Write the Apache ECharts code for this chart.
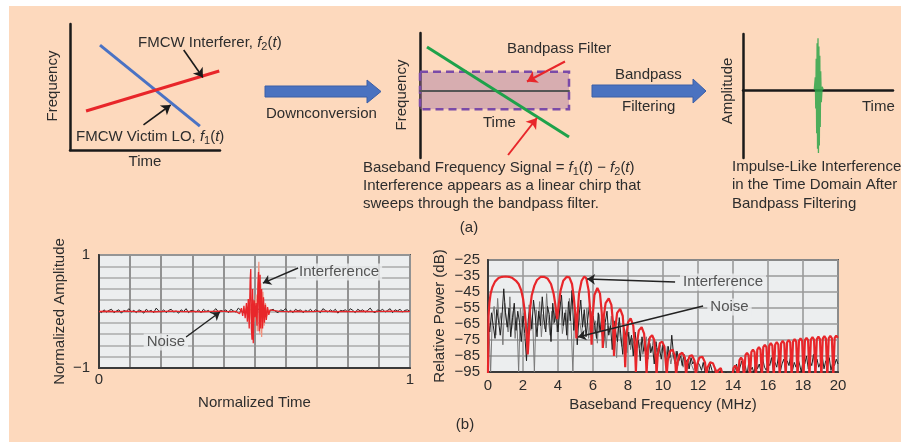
<!DOCTYPE html>
<html><head><meta charset="utf-8">
<script src="https://cdn.jsdelivr.net/npm/echarts@6/dist/echarts.min.js"></script>
<style>html,body{margin:0;padding:0;background:#fff}#c{width:901px;height:442px}</style>
</head><body><div id="c"></div>
<script>
// ---------------- DATA ----------------
// (a) schematic diagrams
const victimLO = [[2.0, 8.33], [8.66, 1.9]];          // f1(t), blue
const interferer = [[1.07, 3.1], [9.95, 6.27]];       // f2(t), red
const basebandChirp = [[4.7, 34.8], [100, -37.2]];    // green chirp in middle panel
const filterBand = [0, 100, -15, 15];                 // x0,x1,y0,y1 of passband box
const impulse = [[47.5,0],[48.2,0.2],[48.5,-0.3],[48.8,0.5],[49.1,-0.7],[49.4,0.75],[49.7,-0.95],[50,0.83],[50.3,-1.02],[50.6,0.7],[50.9,-0.9],[51.2,0.55],[51.5,-0.6],[51.8,0.3],[52.2,-0.2],[52.8,0.05],[53.5,0]];

// (b) left: time domain
const timeStep = 0.008;
const timeNoise = [0.01,-0.02,0.03,-0.01,0.02,0.04,-0.02,0.01,0.03,-0.03,0.02,0.00,0.05,-0.01,0.02,-0.02,0.03,0.01,-0.03,0.04,
0.00,0.02,-0.02,0.06,0.01,-0.01,0.03,-0.02,0.02,0.04,-0.01,0.01,-0.03,0.03,0.00,0.05,-0.02,0.02,0.01,-0.01,
0.03,-0.02,0.04,0.00,0.02,-0.03,0.01,0.05,-0.01,0.02,0.00,0.03,-0.02,0.04,0.01,-0.01,0.06,0.02,-0.02,0.03,
0.00,0.04,-0.01,0.02,0.05,-0.02,0.01,0.03,-0.03,0.02,0.04,0.00,-0.02,0.03,0.01,0.05,-0.01,0.02,-0.02,0.04,
0.01,0.03,-0.02,0.02,0.00,0.04,-0.01,0.03,0.01,-0.02,0.05,0.02,-0.01,0.03,0.00,0.04,-0.03,0.02,0.01,0.03,
-0.01,0.05,0.02,-0.02,0.04,0.01,0.03,-0.01,0.02,0.06,0.00,-0.02,0.03,0.01,0.04,-0.01,0.02,0.05,-0.02,0.03,
0.01,0.04,-0.01,0.02,0.03,0.00];
const timeInterference = [[0,0],[0.03,0.004],[0.06,-0.003],[0.09,0.005],[0.12,-0.002],[0.15,0.003],[0.18,-0.004],[0.21,0.002],[0.24,0.005],[0.27,-0.003],[0.30,0.002],[0.33,-0.004],[0.36,0.003],[0.39,0.006],[0.42,-0.004],[0.44,0.002],
[0.446,0.03],[0.452,-0.04],[0.458,0.06],[0.462,-0.08],[0.466,0.10],[0.470,-0.12],[0.474,0.15],[0.477,-0.18],[0.480,0.22],[0.483,-0.30],[0.486,0.55],[0.488,0.75],[0.490,-0.30],[0.492,-0.50],[0.494,0.40],[0.496,-0.56],[0.499,0.20],[0.502,-0.10],[0.505,0.15],[0.508,-0.25],[0.511,0.45],[0.513,0.70],[0.515,-0.35],[0.518,0.65],[0.520,-0.30],[0.523,0.40],[0.526,-0.30],[0.529,0.25],[0.532,-0.20],[0.535,0.12],[0.538,-0.15],[0.542,0.08],[0.546,-0.06],[0.550,0.03],
[0.556,-0.004],[0.58,0.003],[0.61,-0.002],[0.64,0.004],[0.67,-0.003],[0.70,0.002],[0.73,0.005],[0.76,-0.004],[0.79,0.003],[0.82,-0.002],[0.85,0.004],[0.88,-0.003],[0.91,0.002],[0.94,0.005],[0.97,-0.003],[1.0,0.002]];
const timeInterference2 = [[0.47,0],[0.475,0.08],[0.48,-0.1],[0.485,0.12],[0.49,-0.15],[0.495,0.2],[0.5,-0.18],[0.505,0.3],[0.509,-0.35],[0.512,0.55],[0.514,0.88],[0.517,-0.4],[0.52,0.5],[0.523,-0.45],[0.527,0.35],[0.531,-0.25],[0.535,0.15],[0.54,-0.08],[0.545,0.03],[0.55,0]];

// (b) right: spectrum (MHz, dB)
const freqTicks = [0,2,4,6,8,10,12,14,16,18,20];
const dbTicks = [-95,-85,-75,-65,-55,-45,-35,-25];
const specStep = 0.1;
const specNoiseBlack = [-62,-70,-58,-66,-74,-56,-63,-72,-60,-43,-58,-67,-55,-73,-61,-52,-69,-57,-64,-76,-60,
-71,-88,-62,-55,-68,-50,-60,-73,-57,-66,-48,-62,-70,-54,-59,-76,-52,-64,-58,-70,
-55,-47,-66,-58,-72,-51,-63,-44,-69,-57,-78,-60,-50,-67,-56,-73,-62,-53,-68,-60,
-66,-74,-58,-70,-62,-79,-64,-57,-72,-66,-81,-63,-70,-76,-61,-73,-84,-68,-74,-70,
-78,-72,-85,-70,-80,-75,-88,-73,-82,-77,-86,-74,-83,-79,-90,-76,-84,-80,-87,-78,
-83,-89,-79,-86,-72,-84,-90,-82,-88,-85,-91,-84,-89,-87,-93,-86,-90,-88,-94,-89,
-91,-94,-89,-95,-92,-96,-90,-94,-97,-93,-96,-98,-94,-97,-99,-95,-98,-96,-99,-97,
-94,-90,-96,-92,-88,-95,-91,-97,-89,-94,-92,-96,-88,-93,-90,-95,-87,-92,-94,-89,
-91,-86,-94,-89,-92,-85,-95,-90,-87,-93,-88,-91,-84,-94,-89,-92,-86,-90,-95,-88,
-90,-85,-93,-88,-91,-84,-94,-87,-92,-89,-85,-93,-88,-90,-86,-94,-89,-91,-87,-90];
const specNoiseGrayStart = 0.05;
const specNoiseGray = [-66,-95,-60,-54,-72,-49,-65,-58,-78,-52,-63,-70,-48,-68,-57,-74,-61,-95,-55,-67,
-58,-64,-80,-53,-69,-61,-95,-56,-66,-51,-73,-59,-68,-46,-63,-72,-57,-65,-53,-70,
-60,-52,-71,-63,-56,-75,-49,-66,-95,-58,-69,-54,-64,-72,-59,-67,-55,-74,-62,-57,
-71,-63,-77,-59,-68,-74,-62,-80,-66,-70,-60,-76,-68,-86,-64,-73,-79,-67,-75,-83,
-70,-81,-74,-78,-85,-72,-80,-76,-84,-79,-73,-87,-77,-82,-74,-89,-80,-85,-78,-83,
-81,-87,-79,-84,-90,-83,-88,-82,-91,-86,-84,-92,-87,-89,-93,-88,-91,-94,-90,-95];
const specInterference = [[0,-96],[0.03,-60],[0.08,-52],[0.15,-46],[0.25,-42],[0.4,-38.5],[0.6,-36.3],[0.8,-35.5],[1.0,-35.3],[1.2,-35.5],[1.4,-36.3],[1.6,-38],[1.75,-40],[1.9,-44],[2.0,-49],[2.1,-57],[2.2,-70],[2.27,-84],
[2.32,-75],[2.4,-56],[2.5,-47],[2.65,-41],[2.8,-37.5],[3.0,-35.6],[3.2,-35.5],[3.4,-36.5],[3.6,-40],[3.75,-46],[3.85,-53],[3.95,-62],
[4.05,-52],[4.15,-44],[4.3,-38],[4.5,-35.5],[4.65,-35.8],[4.8,-40],[4.9,-48],[5.0,-60],[5.05,-74],
[5.1,-62],[5.2,-46],[5.35,-38],[5.5,-35.3],[5.62,-36.5],[5.75,-44],[5.85,-58],[5.92,-78],
[5.98,-60],[6.08,-47],[6.25,-42.5],[6.4,-46],[6.5,-58],[6.56,-80],
[6.62,-60],[6.72,-52],[6.9,-49],[7.05,-53],[7.15,-65],[7.2,-85],
[7.27,-68],[7.38,-58],[7.55,-55.5],[7.7,-60],[7.78,-72],[7.84,-92],
[7.9,-73],[8.0,-64],[8.15,-61.5],[8.3,-66],[8.4,-80],[8.45,-95],
[8.52,-76],[8.62,-69],[8.78,-67],[8.92,-71],[9.02,-85],[9.06,-96],
[9.14,-80],[9.25,-73.5],[9.38,-72],[9.5,-75],[9.6,-88],[9.63,-97],
[9.7,-84],[9.82,-77],[9.95,-76],[10.08,-79],[10.18,-92],[10.21,-97],
[10.28,-87],[10.4,-82],[10.55,-81],[10.68,-85],[10.75,-97],
[10.83,-89],[10.95,-84],[11.1,-83],[11.25,-86],[11.32,-97],
[11.4,-89],[11.52,-85],[11.66,-84.5],[11.8,-88],[11.88,-97],
[11.96,-90],[12.08,-86],[12.25,-85.5],[12.4,-89],[12.48,-97],
[12.55,-92],[12.7,-89],[12.85,-89.5],[12.98,-93],[13.05,-97],
[13.15,-94],[13.3,-92.5],[13.42,-97],
[13.95,-98],[14.03,-92.5],[14.12,-91],[14.21,-92.5],
[14.29,-98],[14.37,-87.5],[14.46,-86],[14.55,-87.5],
[14.63,-98],[14.71,-84.5],[14.8,-83],[14.89,-84.5],
[14.97,-98],[15.05,-82.5],[15.14,-81],[15.23,-82.5],
[15.31,-98],[15.39,-81],[15.48,-79.5],[15.57,-81],
[15.65,-98],[15.73,-79.5],[15.82,-78],[15.91,-79.5],
[15.99,-98],[16.07,-78.5],[16.16,-77],[16.25,-78.5],
[16.33,-98],[16.41,-77.8],[16.5,-76.3],[16.59,-77.8],
[16.67,-98],[16.75,-77.1],[16.84,-75.6],[16.93,-77.1],
[17.01,-98],[17.09,-76.5],[17.18,-75],[17.27,-76.5],
[17.35,-98],[17.43,-76],[17.52,-74.5],[17.61,-76],
[17.69,-98],[17.77,-75.5],[17.86,-74],[17.95,-75.5],
[18.03,-98],[18.11,-75.1],[18.2,-73.6],[18.29,-75.1],
[18.37,-98],[18.45,-74.7],[18.54,-73.2],[18.63,-74.7],
[18.71,-98],[18.79,-74.4],[18.88,-72.9],[18.97,-74.4],
[19.05,-98],[19.13,-74.1],[19.22,-72.6],[19.31,-74.1],
[19.39,-98],[19.47,-73.9],[19.56,-72.4],[19.65,-73.9],
[19.73,-98],[19.81,-73.7],[19.9,-72.2],[19.99,-73.7],[20.0,-74]];

// ---------------- CHART ----------------
const FONT = '"Liberation Sans", Arial, Helvetica, sans-serif';
const TXT = '#2d2d2d';
const FS = 15;
const chart = echarts.init(document.getElementById('c'), null, {renderer: 'canvas'});

const richF = {
  n: {fontSize: FS, fontFamily: FONT, fill: TXT, lineHeight: 19},
  i: {fontSize: FS, fontFamily: FONT, fill: TXT, fontStyle: 'italic', lineHeight: 19},
  s: {fontSize: 11, fontFamily: FONT, fill: TXT, lineHeight: 11, verticalAlign: 'bottom'}
};
function T(x, y, text, o) {
  o = o || {};
  return {
    type: 'text', x: x, y: y, rotation: o.rot || 0, silent: true, z: 100,
    style: {
      text: text, fill: TXT, font: FS + 'px ' + FONT,
      align: o.align || 'left', textAlign: o.align || 'left',
      verticalAlign: 'middle', textVerticalAlign: 'middle',
      rich: o.rich ? richF : undefined
    }
  };
}
function blockArrow(pts) {
  return {type: 'polygon', silent: true, z: 5, shape: {points: pts},
    style: {fill: '#4a72c0', stroke: '#3b5ea6', lineWidth: 1}};
}

const hidden = {axisTick: {show: false}, axisLabel: {show: false}, splitLine: {show: false}};
function schemAxis(grid, min, max, lineColor, extra) {
  return Object.assign({gridIndex: grid, type: 'value', min: min, max: max,
    axisLine: {show: true, onZero: true, lineStyle: {color: lineColor, width: 2.5}}}, hidden, extra || {});
}
function arrowSeries(xi, yi, coords, color, width, size) {
  return {type: 'lines', coordinateSystem: 'cartesian2d', xAxisIndex: xi, yAxisIndex: yi, z: 10,
    symbol: ['none', 'arrow'], symbolSize: size || 8, silent: true, clip: false,
    lineStyle: {color: color, width: width, opacity: 1, curveness: 0},
    data: [{coords: coords}]};
}
function labelSeries(xi, yi, pos, text) {
  return {type: 'scatter', xAxisIndex: xi, yAxisIndex: yi, symbolSize: 1, z: 8, silent: true,
    itemStyle: {color: 'rgba(0,0,0,0)'}, data: [pos],
    label: {show: true, position: 'inside', formatter: text, color: TXT, fontSize: FS, fontFamily: FONT,
      backgroundColor: '#eceeef', padding: [1, 3]}};
}

const plotAxisCommon = {
  axisLine: {show: true, onZero: false, lineStyle: {color: '#3a3a3a', width: 2}},
  axisTick: {show: false},
  axisLabel: {color: TXT, fontSize: FS, fontFamily: FONT},
  nameTextStyle: {color: TXT, fontSize: FS, fontFamily: FONT}
};

const option = {
  animation: false,
  backgroundColor: '#ffffff',
  grid: [
    {left: 70, top: 24, width: 150, height: 126},
    {left: 420, top: 33, width: 149, height: 125},
    {left: 743, top: 34, width: 150, height: 124},
    {left: 99, top: 255, width: 311, height: 113, show: true, backgroundColor: '#eceeef', borderColor: '#555', borderWidth: 2},
    {left: 488, top: 260, width: 350, height: 112, show: true, backgroundColor: '#eceeef', borderColor: '#555', borderWidth: 2}
  ],
  xAxis: [
    schemAxis(0, 0, 10, '#1a1a1a'),
    schemAxis(1, 0, 100, '#555', {z: 3, axisLine: {show: true, onZero: true, lineStyle: {color: '#555', width: 2}}}),
    schemAxis(2, 0, 100, '#1a1a1a'),
    Object.assign({}, plotAxisCommon, {gridIndex: 3, type: 'value', min: 0, max: 1, interval: 0.1,
      name: 'Normalized Time', nameLocation: 'middle', nameGap: 27,
      axisLabel: Object.assign({}, plotAxisCommon.axisLabel, {margin: 4,
        formatter: v => Math.abs(v) < 1e-9 ? '0' : (Math.abs(v - 1) < 1e-9 ? '1' : '')}),
      splitLine: {show: true, lineStyle: {color: '#929292', width: 2}}}),
    Object.assign({}, plotAxisCommon, {gridIndex: 4, type: 'value', min: freqTicks[0], max: freqTicks[freqTicks.length - 1], interval: 2,
      name: 'Baseband Frequency (MHz)', nameLocation: 'middle', nameGap: 25,
      axisLabel: Object.assign({}, plotAxisCommon.axisLabel, {margin: 6}),
      splitLine: {show: true, lineStyle: {color: '#9a9a9a', width: 1.6}}})
  ],
  yAxis: [
    schemAxis(0, 0, 10, '#1a1a1a'),
    schemAxis(1, -54, 46, '#1a1a1a'),
    schemAxis(2, -1.1, 0.9, '#1a1a1a'),
    Object.assign({}, plotAxisCommon, {gridIndex: 3, type: 'value', min: -1, max: 1, interval: 0.2,
      name: 'Normalized Amplitude', nameLocation: 'middle', nameGap: 32, nameRotate: 90,
      axisLabel: Object.assign({}, plotAxisCommon.axisLabel, {margin: 9,
        formatter: v => Math.abs(v - 1) < 1e-9 ? '1' : (Math.abs(v + 1) < 1e-9 ? '\u22121' : '')}),
      splitLine: {show: true, lineStyle: {color: '#ababab', width: 1.6}}}),
    Object.assign({}, plotAxisCommon, {gridIndex: 4, type: 'value', min: dbTicks[0], max: dbTicks[dbTicks.length - 1], interval: 10,
      name: 'Relative Power (dB)', nameLocation: 'middle', nameGap: 41, nameRotate: 90,
      axisLabel: Object.assign({}, plotAxisCommon.axisLabel, {margin: 8,
        formatter: v => v < 0 ? '\u2212' + Math.abs(v) : String(v)}),
      splitLine: {show: true, lineStyle: {color: '#9a9a9a', width: 1.6}}})
  ],
  series: [
    // (a) left
    {type: 'line', xAxisIndex: 0, yAxisIndex: 0, data: victimLO, showSymbol: false, silent: true,
      lineStyle: {color: '#4a72c4', width: 3}},
    {type: 'line', xAxisIndex: 0, yAxisIndex: 0, data: interferer, showSymbol: false, silent: true,
      lineStyle: {color: '#e8262a', width: 3}},
    arrowSeries(0, 0, [[7.58, 7.94], [8.86, 5.75]], '#1a1a1a', 1.6, 9),
    arrowSeries(0, 0, [[4.9, 2.0], [6.71, 3.57]], '#1a1a1a', 1.6, 9),
    // (a) middle
    {type: 'line', xAxisIndex: 1, yAxisIndex: 1, data: [], z: 1, silent: true,
      markArea: {silent: true, itemStyle: {color: 'rgba(168,120,160,0.45)', borderColor: '#7a4aa8', borderWidth: 2.5, borderType: [8, 5]},
        data: [[{xAxis: filterBand[0], yAxis: filterBand[3]}, {xAxis: filterBand[1], yAxis: filterBand[2]}]]}},
    {type: 'line', xAxisIndex: 1, yAxisIndex: 1, data: basebandChirp, showSymbol: false, silent: true, z: 5,
      lineStyle: {color: '#1ea24a', width: 3}},
    arrowSeries(1, 1, [[97.3, 23.2], [71.8, 7.2]], '#e8262a', 2, 10),
    arrowSeries(1, 1, [[59.1, -51.6], [78.5, -22]], '#e8262a', 2, 10),
    // (a) right
    {type: 'line', xAxisIndex: 2, yAxisIndex: 2, data: impulse, showSymbol: false, silent: true, z: 5,
      lineStyle: {color: '#2ea44a', width: 1.3, opacity: 0.85}},
    // (b) left
    {type: 'line', xAxisIndex: 3, yAxisIndex: 3, data: timeNoise.map((v, i) => [i * timeStep, v]), showSymbol: false, silent: true,
      lineStyle: {color: '#222', width: 1}},
    {type: 'line', xAxisIndex: 3, yAxisIndex: 3, data: timeInterference2, showSymbol: false, silent: true,
      lineStyle: {color: '#f2917c', width: 1.2}},
    {type: 'line', xAxisIndex: 3, yAxisIndex: 3, data: timeInterference, showSymbol: false, silent: true,
      lineStyle: {color: '#e8262a', width: 1.3}},
    labelSeries(3, 3, [0.772, 0.70], 'Interference'),
    labelSeries(3, 3, [0.215, -0.54], 'Noise'),
    arrowSeries(3, 3, [[0.64, 0.77], [0.527, 0.504]], '#222', 1.4, 8),
    arrowSeries(3, 3, [[0.28, -0.451], [0.389, -0.009]], '#222', 1.4, 8),
    // (b) right
    {type: 'line', xAxisIndex: 4, yAxisIndex: 4, data: specNoiseGray.map((v, i) => [specNoiseGrayStart + i * specStep, v]), showSymbol: false, silent: true,
      lineStyle: {color: '#7a7a7a', width: 1}},
    {type: 'line', xAxisIndex: 4, yAxisIndex: 4, data: specNoiseBlack.map((v, i) => [i * specStep, v]), showSymbol: false, silent: true,
      lineStyle: {color: '#1e1e1e', width: 1}},
    {type: 'line', xAxisIndex: 4, yAxisIndex: 4, data: specInterference, showSymbol: false, silent: true,
      lineStyle: {color: '#e8262a', width: 2.2}},
    labelSeries(4, 4, [13.43, -38.75], 'Interference'),
    labelSeries(4, 4, [13.8, -54.4], 'Noise'),
    arrowSeries(4, 4, [[10.69, -38.75], [5.66, -36.9]], '#222', 1.4, 8),
    arrowSeries(4, 4, [[12.29, -53.75], [5.14, -73.1]], '#222', 1.4, 8)
  ],
  graphic: [
    {type: 'rect', silent: true, z: -10, shape: {x: 9, y: 6, width: 892, height: 436}, style: {fill: '#fdd9bd'}},
    // (a) left texts
    T(53, 86, 'Frequency', {align: 'center', rot: Math.PI / 2}),
    T(145, 162, 'Time', {align: 'center'}),
    T(138, 43, '{n|FMCW Interferer, }{i|f}{s|2}{n|(}{i|t}{n|)}', {rich: true}),
    T(76, 137, '{n|FMCW Victim LO, }{i|f}{s|1}{n|(}{i|t}{n|)}', {rich: true}),
    // arrows
    blockArrow([[265, 86], [367, 86], [367, 80], [381, 91.5], [367, 103], [367, 97], [265, 97]]),
    blockArrow([[592, 85], [693, 85], [693, 79], [706, 91], [693, 103], [693, 97], [592, 97]]),
    T(266, 114, 'Downconversion'),
    T(615, 75, 'Bandpass'),
    T(622, 107, 'Filtering'),
    // (a) middle texts
    T(402, 95, 'Frequency', {align: 'center', rot: Math.PI / 2}),
    T(507, 49, 'Bandpass Filter'),
    T(483, 123, 'Time'),
    T(363, 168, '{n|Baseband Frequency Signal = }{i|f}{s|1}{n|(}{i|t}{n|) \u2212 }{i|f}{s|2}{n|(}{i|t}{n|)}', {rich: true}),
    T(363, 186, 'Interference appears as a linear chirp that'),
    T(363, 204, 'sweeps through the bandpass filter.'),
    T(469, 228, '(a)', {align: 'center'}),
    // (a) right texts
    T(728, 91, 'Amplitude', {align: 'center', rot: Math.PI / 2}),
    T(862, 107, 'Time'),
    T(732, 167, 'Impulse-Like Interference'),
    T(732, 185, 'in the Time Domain After'),
    T(732, 204, 'Bandpass Filtering'),
    T(465, 425, '(b)', {align: 'center'})
  ]
};
chart.setOption(option);
</script></body></html>
